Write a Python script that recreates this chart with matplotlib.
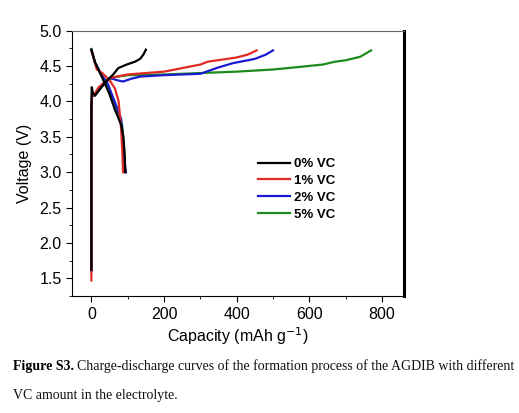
import matplotlib
matplotlib.use("Agg")
import matplotlib.pyplot as plt
from matplotlib.ticker import MultipleLocator

# Charge curves (capacity mAh/g, voltage V)
cap_ch_0 = [0, 0, 1, 4, 10, 20, 40, 60, 74, 97, 120, 134, 143, 150]
v_ch_0 = [1.62, 3.9, 4.2, 4.12, 4.08, 4.15, 4.28, 4.38, 4.47, 4.52, 4.56, 4.60, 4.66, 4.73]
cap_ch_1 = [0, 0, 2, 6, 20, 50, 100, 200, 280, 300, 320, 400, 430, 455]
v_ch_1 = [1.47, 3.9, 4.1, 4.08, 4.2, 4.33, 4.38, 4.42, 4.50, 4.52, 4.56, 4.62, 4.66, 4.72]
cap_ch_2 = [0, 0, 2, 6, 25, 52, 70, 87, 110, 134, 200, 300, 317, 350, 390, 450, 480, 500]
v_ch_2 = [1.6, 3.9, 4.1, 4.08, 4.2, 4.33, 4.30, 4.28, 4.32, 4.35, 4.37, 4.39, 4.42, 4.48, 4.54, 4.60, 4.66, 4.72]
cap_ch_5 = [0, 0, 2, 6, 20, 40, 60, 100, 200, 300, 400, 500, 560, 637, 670, 700, 740, 770]
v_ch_5 = [1.65, 3.9, 4.1, 4.08, 4.15, 4.28, 4.34, 4.37, 4.38, 4.40, 4.42, 4.45, 4.48, 4.52, 4.56, 4.58, 4.63, 4.72]

# Discharge curves
cap_dis_0 = [0, 10, 32, 50, 65, 82, 88, 92, 93]
v_dis_0 = [4.73, 4.55, 4.31, 4.10, 3.88, 3.67, 3.50, 3.22, 3.0]
cap_dis_1 = [0, 15, 30, 50, 65, 75, 82, 86, 87]
v_dis_1 = [4.72, 4.45, 4.40, 4.30, 4.18, 4.0, 3.6, 3.2, 3.0]
cap_dis_2 = [0, 10, 25, 45, 60, 75, 82, 86, 90, 95]
v_dis_2 = [4.72, 4.55, 4.40, 4.25, 4.05, 3.85, 3.75, 3.5, 3.2, 3.0]
cap_dis_5 = [0, 10, 30, 50, 70, 85, 90, 93]
v_dis_5 = [4.74, 4.55, 4.35, 4.15, 3.90, 3.65, 3.3, 3.0]

labels = ["0% VC", "1% VC", "2% VC", "5% VC"]
colors = ["black", "#e02a24", "#1a1ad0", "#1e8a1e"]

fig = plt.figure(figsize=(5.19, 4.13), dpi=100)
ax = fig.add_axes([0.139, 0.283, 0.639, 0.643])

charges = [(cap_ch_0, v_ch_0), (cap_ch_1, v_ch_1), (cap_ch_2, v_ch_2), (cap_ch_5, v_ch_5)]
discharges = [(cap_dis_0, v_dis_0), (cap_dis_1, v_dis_1), (cap_dis_2, v_dis_2), (cap_dis_5, v_dis_5)]
for i in [3, 2, 1, 0]:
    ax.plot(*charges[i], color=colors[i], lw=1.6, label=labels[i])
    ax.plot(*discharges[i], color=colors[i], lw=1.6)

ax.set_xlim(-53, 860)
ax.set_ylim(1.25, 5.0)
ax.xaxis.set_major_locator(MultipleLocator(200))
ax.xaxis.set_minor_locator(MultipleLocator(100))
ax.yaxis.set_major_locator(MultipleLocator(0.5))
ax.yaxis.set_minor_locator(MultipleLocator(0.25))
ax.tick_params(which="both", direction="out", top=False, right=False, labelsize=11.5)
ax.tick_params(which="major", length=4)
ax.tick_params(which="minor", length=2.5)
for lbl in ax.get_xticklabels() + ax.get_yticklabels():
    lbl.set_fontfamily("Liberation Sans")

ax.spines["top"].set_color("#666666")
ax.spines["top"].set_linewidth(0.8)
ax.spines["right"].set_linewidth(2.2)
ax.spines["right"].set_color("black")

ax.set_xlabel("Capacity (mAh g$^{-1}$)", fontsize=11.5, family="Liberation Sans", labelpad=3)
ax.set_ylabel("Voltage (V)", fontsize=11.5, family="Liberation Sans", labelpad=5)

handles, lbls = ax.get_legend_handles_labels()
leg = ax.legend(handles[::-1], lbls[::-1], loc="upper left", bbox_to_anchor=(0.525, 0.565),
                frameon=False, handlelength=2.45, handletextpad=0.3, labelspacing=0.35,
                prop={"family": "Liberation Sans", "weight": "bold", "size": 9.5})

# caption: bold prefix followed by regular text
cap_y1 = 0.105
cap_y2 = 0.035
bold = fig.text(0.025, cap_y1, "Figure S3.", fontsize=10, fontweight="bold", family="Liberation Serif")
fig.canvas.draw()
bb = bold.get_window_extent(renderer=fig.canvas.get_renderer())
x_rest = (bb.x1 + 3) / fig.bbox.width
fig.text(x_rest, cap_y1, "Charge-discharge curves of the formation process of the AGDIB with different",
         fontsize=10, family="Liberation Serif", color="#111111")
fig.text(0.025, cap_y2, "VC amount in the electrolyte.", fontsize=10, family="Liberation Serif", color="#111111")

fig.savefig("out.png", dpi=100)
